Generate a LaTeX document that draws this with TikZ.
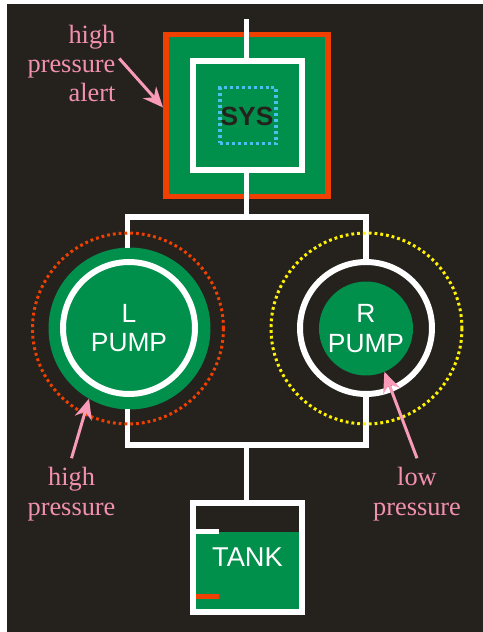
\documentclass[tikz,border=0pt]{standalone}
\usepackage{fontspec}
\setmainfont{Liberation Serif}
\setsansfont{Liberation Sans}
\usepackage{xcolor}
\usetikzlibrary{arrows.meta}
\definecolor{paneldark}{RGB}{37,34,30}
\definecolor{hydgreen}{RGB}{0,144,76}
\definecolor{alertred}{RGB}{240,64,0}
\definecolor{notepink}{RGB}{242,144,175}
\definecolor{arrowpink}{RGB}{248,155,185}
\definecolor{sysblue}{RGB}{77,190,240}
\definecolor{lowyellow}{RGB}{255,242,0}
\tikzset{
  pipe/.style={draw=white,line width=3.1pt,line join=miter},
  ringline/.style={draw=white,line width=3.4pt,circle,minimum size=2.64cm,inner sep=0pt,outer sep=0pt},
  disc/.style={fill=hydgreen,circle,inner sep=0pt,outer sep=0pt},
  unitlabel/.style={text=white,font=\sffamily\fontsize{15}{17}\selectfont,align=center},
  halo/.style={circle,minimum size=3.82cm,inner sep=0pt,outer sep=0pt,line width=1.7pt,dash pattern=on 1.6pt off 1.7pt},
  note/.style={text=notepink,font=\fontsize{15}{16.7}\selectfont,inner sep=5pt},
  notearrow/.style={draw=arrowpink,line width=1.7pt,-{Stealth[length=11.5pt,width=10pt]}},
  tick/.style={line width=2.8pt}
}
\begin{document}
\begin{tikzpicture}[x=0.02cm,y=-0.02cm]
  \useasboundingbox (0,0) rectangle (483,632);
  \fill[paneldark] (7,4) rectangle (483,632);

  % system block
  \node[draw=alertred,fill=hydgreen,line width=3.2pt,minimum size=3.24cm,inner sep=0pt,outer sep=0pt] (sysouter) at (247,115.5) {};
  \node[ringline,rectangle,fill=hydgreen,minimum size=2.18cm] (sysring) at (247.5,115.5) {};
  \node[draw=sysblue,line width=1.9pt,dash pattern=on 1.7pt off 1.7pt,minimum size=1.12cm,inner sep=0pt] (sysdots) at (248,115.5) {};
  \node[text=paneldark,font=\sffamily\bfseries\fontsize{15}{17}\selectfont] (syslabel) at (247,116) {SYS};
  \coordinate (systop) at (246.5,19);
  \coordinate (bustopmid) at (246.5,217);
  \draw[pipe] (systop) -- (sysring.north -| systop);
  \draw[pipe] (sysring.south -| systop) -- (bustopmid);

  % the two pumps
  \node[disc,minimum size=3.24cm] (ldisc) at (129.5,328.5) {};
  \node[ringline,unitlabel] (lring) at (129,328) {L\\PUMP};
  \node[ringline] (rring) at (366,328) {};
  \node[disc,unitlabel,minimum size=1.88cm] (rdisc) at (366,328.5) {R\\PUMP};

  \coordinate (bustl) at (127.5,217);
  \coordinate (bustr) at (366,217);
  \coordinate (busbl) at (127.5,445);
  \coordinate (busbr) at (366,445);
  \coordinate (busbotmid) at (246.5,445);
  \draw[pipe] (ldisc.north -| bustl) -- (bustl) -- (bustr) -- (rring.north);
  \draw[pipe] (ldisc.south -| busbl) -- (busbl) -- (busbr) -- (rring.south);

  % pressure halos go over the pipes
  \node[halo,draw=alertred] (lhalo) at (128,328.5) {};
  \node[halo,draw=lowyellow] (rhalo) at (366.5,328.5) {};

  % tank
  \node[fill=hydgreen,minimum width=2.06cm,minimum height=1.56cm,inner sep=0pt] (fluid) at (247.5,571) {};
  \node[draw=white,line width=3.4pt,minimum size=2.18cm,inner sep=0pt,outer sep=0pt,unitlabel,font=\sffamily\fontsize{15.5}{17}\selectfont] (tank) at (247.5,557.5) {TANK};
  \draw[pipe] (busbotmid) -- (tank.north -| busbotmid);
  \draw[tick,white] (194,531.5) -- (219,531.5);
  \draw[tick,alertred] (196,596.5) -- (219,596.5);

  % notes
  \node[note,align=right,inner sep=2pt] (alertnote) at (71.5,63.5) {high\\pressure\\alert};
  \node[note,align=center] (lnote) at (71.5,494) {high\\pressure};
  \node[note,align=center] (rnote) at (417,494) {low\\pressure};
  \coordinate (alerttip) at (163,107.5);
  \draw[notearrow] (alertnote.6) -- (alerttip);
  \draw[notearrow] (lnote.north) -- (ldisc.240);
  \draw[notearrow] (rnote.north) -- (rdisc.-67.5);
\end{tikzpicture}
\end{document}
